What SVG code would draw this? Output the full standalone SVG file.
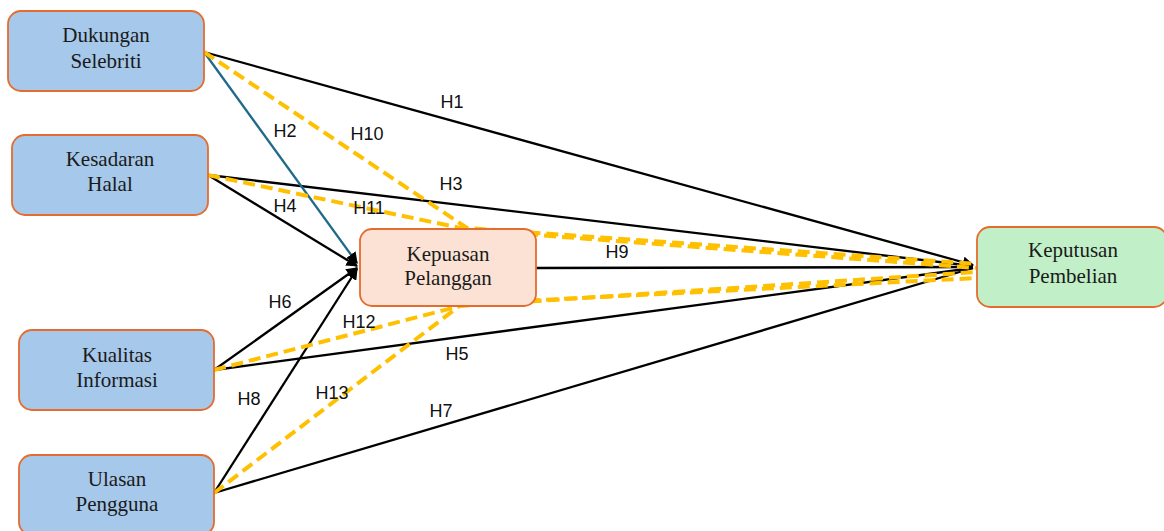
<svg xmlns="http://www.w3.org/2000/svg" width="1164" height="531" viewBox="0 0 1164 531">
<defs>
<marker id="ah" viewBox="0 0 10 10" refX="9" refY="5" markerWidth="5" markerHeight="5" orient="auto" markerUnits="strokeWidth">
<path d="M0,0 L10,5 L0,10 z" fill="#000"/>
</marker>
<style>
.node rect{stroke:#E46C2E;stroke-width:1.8}
.src rect{fill:#A6C8EA}
.med rect{fill:#FBE2D5}
.dv rect{fill:#C1F0C8}
.node text{font-family:"Liberation Serif","Times New Roman",serif;font-size:21px;fill:#1a1a1a;text-anchor:middle}
.blk{stroke:#000;stroke-width:2.3;fill:none}
.teal{stroke:#1F6A88;stroke-width:2.3;fill:none}
.ylw{stroke:#FFC000;stroke-width:4;stroke-dasharray:12 6;fill:none}
.lbl{font-family:"Liberation Sans",Arial,sans-serif;font-size:18px;fill:#111;text-anchor:middle}
</style>
</defs>
<rect width="1164" height="531" fill="#fff"/>
<g id="connectors">
<line class="blk" x1="204" y1="52" x2="973" y2="265" marker-end="url(#ah)"/>
<line class="blk" x1="208" y1="175" x2="973" y2="266"/>
<line class="blk" x1="214" y1="370" x2="973" y2="268"/>
<line class="blk" x1="214" y1="493" x2="973" y2="268"/>
<line class="blk" x1="536" y1="268" x2="973" y2="267"/>
<line class="teal" x1="204" y1="52" x2="357" y2="263" marker-end="url(#ah)"/>
<line class="blk" x1="208" y1="175" x2="357" y2="266" marker-end="url(#ah)"/>
<line class="blk" x1="214" y1="370" x2="357" y2="268" marker-end="url(#ah)"/>
<line class="blk" x1="214" y1="493" x2="357" y2="269" marker-end="url(#ah)"/>
<polyline class="ylw" points="204,52 467,228 977,264"/>
<polyline class="ylw" points="208,175 470,230 977,268"/>
<polyline class="ylw" points="214,370 460,306 977,272"/>
<polyline class="ylw" points="214,493 462,304 977,278"/>
</g>
<g id="labels">
<text class="lbl" x="452" y="108">H1</text>
<text class="lbl" x="285" y="137">H2</text>
<text class="lbl" x="367" y="140">H10</text>
<text class="lbl" x="451" y="190">H3</text>
<text class="lbl" x="285" y="212">H4</text>
<text class="lbl" x="369" y="214">H11</text>
<text class="lbl" x="617" y="258">H9</text>
<text class="lbl" x="280" y="308">H6</text>
<text class="lbl" x="359" y="328">H12</text>
<text class="lbl" x="457" y="360">H5</text>
<text class="lbl" x="249" y="405">H8</text>
<text class="lbl" x="332" y="399">H13</text>
<text class="lbl" x="441" y="417">H7</text>
</g>
<g id="node-dukungan" class="node src">
<rect x="8" y="11" width="196" height="80" rx="13"/>
<text x="106" y="42">Dukungan</text>
<text x="106" y="68">Selebriti</text>
</g>
<g id="node-kesadaran" class="node src">
<rect x="12" y="135" width="196" height="80" rx="13"/>
<text x="110" y="166">Kesadaran</text>
<text x="110" y="191">Halal</text>
</g>
<g id="node-kualitas" class="node src">
<rect x="19" y="330" width="195" height="80" rx="13"/>
<text x="117" y="362">Kualitas</text>
<text x="117" y="387">Informasi</text>
</g>
<g id="node-ulasan" class="node src">
<rect x="19" y="455" width="195" height="80" rx="13"/>
<text x="117" y="486">Ulasan</text>
<text x="117" y="511">Pengguna</text>
</g>
<g id="node-kepuasan" class="node med">
<rect x="360" y="229" width="176" height="77" rx="12"/>
<text x="448" y="261">Kepuasan</text>
<text x="448" y="285">Pelanggan</text>
</g>
<g id="node-keputusan" class="node dv">
<rect x="977" y="227" width="190" height="80" rx="13"/>
<text x="1073" y="257">Keputusan</text>
<text x="1073" y="283">Pembelian</text>
</g>
</svg>
